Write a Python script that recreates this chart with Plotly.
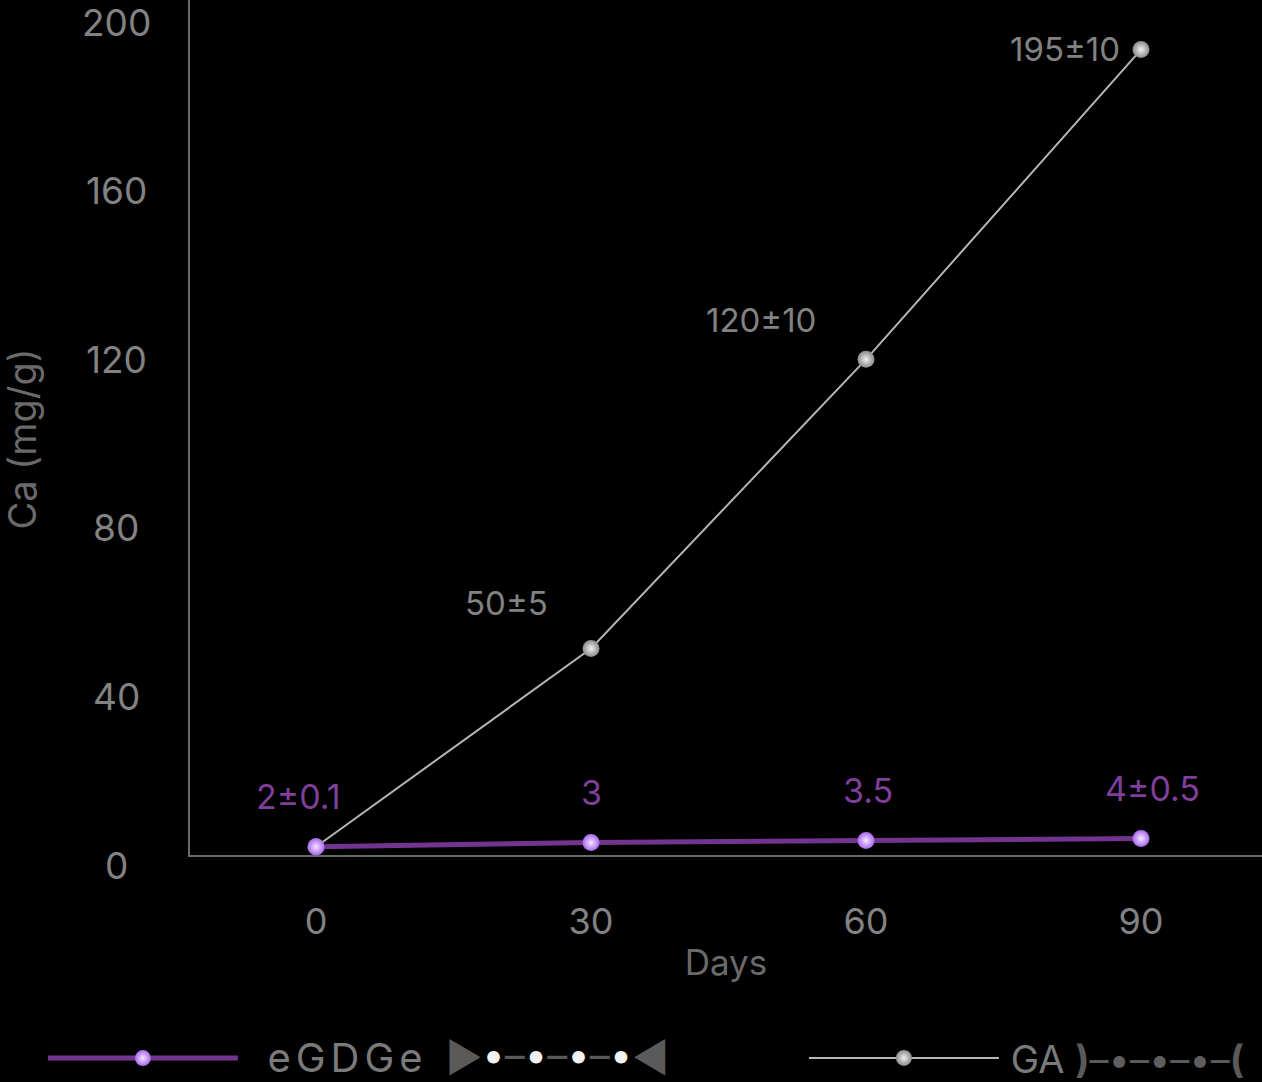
import plotly.graph_objects as go

# ---- data ----
days = [0, 30, 60, 90]
egdge_vals = [2, 3, 3.5, 4]
egdge_labels = ["2±0.1", "3", "3.5", "4±0.5"]
ga_vals = [2, 50, 120, 195]
ga_labels = ["", "50±5", "120±10", "195±10"]
y_ticks = [0, 40, 80, 120, 160, 200]
x_ticks = [0, 30, 60, 90]

# ---- style ----
FONT = "Inter"
GRAY_TXT = "#828282"
PURPLE = "#72348e"
PURPLE_TXT = "#7f3f9b"
AXIS_COL = "#6a6a6a"
SEP = "#5a5a5a"

def c(col, s):
    return f'<span style="color:{col}">{s}</span>'

W = "#f2f2f2"
egdge_deco = ('<span style="font-size:40px">' + c(SEP, "▶") + c(W, "•") + c(SEP, "–")
              + c(W, "•") + c(SEP, "–") + c(W, "•") + c(SEP, "–") + c(W, "•")
              + c(SEP, "◀") + '</span>')
egdge_name = ('\u2002\u2009<span style="letter-spacing:5px;font-size:40px">eGDGe</span>\u2002'
              + egdge_deco)
D = "#5e5e5e"
ga_name = ('\u2009GA ' + c(SEP, "<b>)</b>") + c(SEP, "–") + c(D, "•") + c(SEP, "–")
           + c(D, "•") + c(SEP, "–") + c(D, "•") + c(SEP, "–") + c(SEP, "<b>(</b>"))

fig = go.Figure()

fig.add_trace(go.Scatter(
    x=days, y=ga_vals, mode="lines+markers", name=ga_name, legend="legend2",
    line=dict(color="#b5b5b5", width=2),
    marker=dict(size=17, color="#8a8a8a",
                gradient=dict(type="radial", color="#f0f0f0")),
))
fig.add_trace(go.Scatter(
    x=days, y=egdge_vals, mode="lines+markers", name=egdge_name, legend="legend",
    line=dict(color=PURPLE, width=5),
    marker=dict(size=17, color="#a866ee",
                gradient=dict(type="radial", color="#f3e6ff")),
))

annotations = []
# GA labels (to the upper-left of points)
ga_shift = [(0, 0), (-41, 45), (-48, 39), (-19, 1)]
for d, v, t, (xs, ys) in zip(days, ga_vals, ga_labels, ga_shift):
    if t:
        annotations.append(dict(x=d, y=v, xref="x", yref="y", text=t,
                                showarrow=False, xanchor="right", yanchor="middle",
                                xshift=xs, yshift=ys,
                                font=dict(family=FONT, size=33, color=GRAY_TXT)))
# eGDGe labels
eg_xshift = [-18, 0, 2, 11]
for d, v, t, xs in zip(days, egdge_vals, egdge_labels, eg_xshift):
    annotations.append(dict(x=d, y=v, xref="x", yref="y", text=t,
                            showarrow=False, xanchor="center", yanchor="middle",
                            xshift=xs, yshift=50,
                            font=dict(family=FONT, size=34, color=PURPLE_TXT)))
# y tick labels (centered)
for v in y_ticks:
    annotations.append(dict(x=0, y=v, xref="paper", yref="y2", text=str(v),
                            showarrow=False, xanchor="center", yanchor="middle",
                            xshift=-74, yshift=-10,
                            font=dict(family=FONT, size=37, color=GRAY_TXT)))
# y title
annotations.append(dict(x=0, y=0.486, xref="paper", yref="paper", text="Ca (mg/g)",
                        textangle=-90, showarrow=False, xanchor="center",
                        yanchor="middle", xshift=-168,
                        font=dict(family=FONT, size=38, color="#6a6a6a")))

fig.update_layout(
    width=1262, height=1082,
    paper_bgcolor="#000000", plot_bgcolor="#000000",
    margin=dict(l=190, r=0, t=0, b=227),
    font=dict(family=FONT, color=GRAY_TXT),
    showlegend=True,
    legend=dict(orientation="h", xref="container", yref="container",
                x=0.034, y=0.022, xanchor="left", yanchor="middle",
                font=dict(family=FONT, size=36, color="#7a7a7a"),
                itemwidth=190, bgcolor="rgba(0,0,0,0)"),
    legend2=dict(orientation="h", xref="container", yref="container",
                 x=0.637, y=0.022, xanchor="left", yanchor="middle",
                 font=dict(family=FONT, size=38, color="#7a7a7a"),
                 itemwidth=190, bgcolor="rgba(0,0,0,0)"),
    xaxis=dict(range=[-13.75, 103.2], tickvals=x_ticks,
               showgrid=False, zeroline=False,
               showline=True, linecolor=AXIS_COL, linewidth=2,
               ticks="", ticklabelstandoff=34,
               tickfont=dict(family=FONT, size=36, color=GRAY_TXT),
               title=dict(text="Days", standoff=8,
                          font=dict(family=FONT, size=35, color="#6a6a6a"))),
    yaxis=dict(range=[0, 207], showgrid=False, zeroline=False,
               showline=True, linecolor=AXIS_COL, linewidth=2,
               showticklabels=False, ticks=""),
    yaxis2=dict(range=[0, 202.85], overlaying="y", side="left",
                showgrid=False, zeroline=False, showline=False,
                showticklabels=False, ticks=""),
    annotations=annotations,
)

fig.write_html("out.html", config={"displayModeBar": False},
               post_script="document.body.style.margin='0';")
